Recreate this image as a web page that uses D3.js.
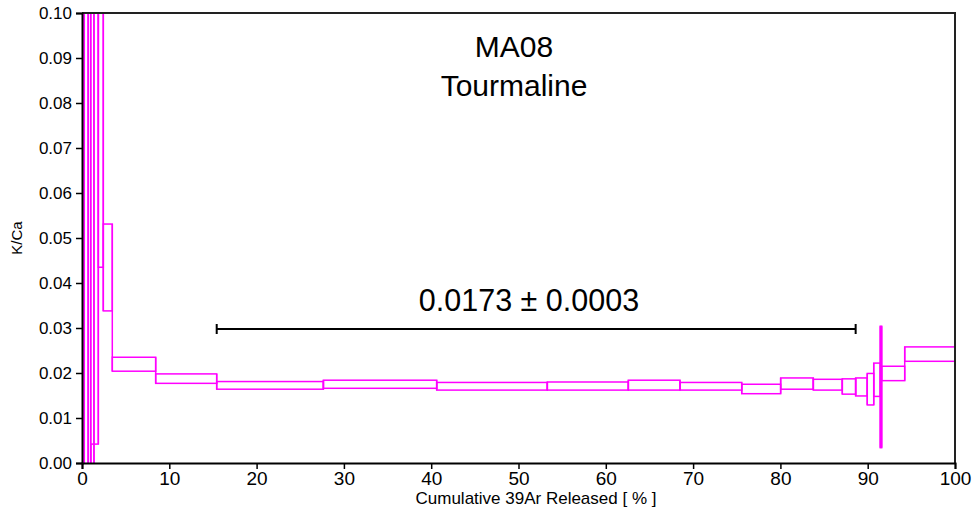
<!DOCTYPE html>
<html>
<head>
<meta charset="utf-8">
<script src="https://cdn.jsdelivr.net/npm/d3@7"></script>
<style>
  body { margin: 0; background: #fff; }
  svg { display: block; }
</style>
</head>
<body>
<div id="chart"></div>
<script>
// step edges, cumulative 39Ar released (%)
const stepEdges = [0, 0.26, 0.72, 1.0, 1.37, 1.87, 2.44, 3.47, 8.44, 15.43, 27.65, 40.63, 53.3,
    62.58, 68.5, 75.57, 80.03, 83.77, 87.09, 88.62, 89.95, 90.69, 91.44, 91.6, 94.24, 100];
// lower / upper K/Ca of each step (first ones run off the scale)
const kcaLow = [-0.05, -0.04, -0.03, -0.02, 0.0042, 0.0435, 0.0338, 0.0204, 0.0177, 0.0164, 0.0166,
    0.0162, 0.0162, 0.0162, 0.0162, 0.0154, 0.0164, 0.0162, 0.0153, 0.0149, 0.0129, 0.0148, 0.0034,
    0.0183, 0.0226];
const kcaHigh = [0.25, 0.22, 0.2, 0.0042, 0.15, 0.12, 0.0531, 0.0235, 0.0198, 0.0181, 0.0184,
    0.0179, 0.0180, 0.0184, 0.0179, 0.0175, 0.0189, 0.0186, 0.0187, 0.0189, 0.0199, 0.0222, 0.0304,
    0.0215, 0.0258];

const plateauFrom = 15.43, plateauTo = 88.62, plateauLevel = 0.0298;
const plateauLabel = "0.0173 \u00b1 0.0003";
const titleLines = ["MA08", "Tourmaline"];
const xTicks = d3.range(0, 101, 10);
const yTicks = d3.range(0, 0.1001, 0.01);

const width = 974, height = 514;
const margin = { left: 82, top: 13, right: 19, bottom: 51 };
const innerW = width - margin.left - margin.right;
const innerH = height - margin.top - margin.bottom;

const svg = d3.select("#chart").append("svg")
    .attr("width", width)
    .attr("height", height);

const x = d3.scaleLinear().domain([0, 100]).range([margin.left, margin.left + innerW]);
const y = d3.scaleLinear().domain([0, 0.1]).range([margin.top + innerH, margin.top]);

svg.append("clipPath").attr("id", "plot")
    .append("rect")
    .attr("x", margin.left).attr("y", margin.top)
    .attr("width", innerW).attr("height", innerH);

const steps = kcaLow.map((lo, i) => ({ x0: stepEdges[i], x1: stepEdges[i + 1], lo, hi: kcaHigh[i] }));

// vertical joins between neighbouring steps
const joins = steps.slice(1).map((s, i) => ({
    at: s.x0,
    lo: Math.min(s.lo, steps[i].lo),
    hi: Math.max(s.hi, steps[i].hi)
})).filter(d => d.hi > d.lo);

const spectrum = svg.append("g").attr("clip-path", "url(#plot)");

spectrum.selectAll("rect")
    .data(steps)
    .enter().append("rect")
    .attr("x", d => x(d.x0))
    .attr("width", d => x(d.x1) - x(d.x0))
    .attr("y", d => y(d.hi))
    .attr("height", d => y(d.lo) - y(d.hi))
    .attr("fill", "none")
    .attr("stroke", "#ff00ff")
    .attr("stroke-width", 1.5);

spectrum.selectAll("line")
    .data(joins)
    .enter().append("line")
    .attr("x1", d => x(d.at)).attr("x2", d => x(d.at))
    .attr("y1", d => y(d.hi)).attr("y2", d => y(d.lo))
    .attr("stroke", "#ff00ff")
    .attr("stroke-width", 1.5);

// frame top and right
svg.append("path")
    .attr("d", `M${x(0)},${y(0.1)}H${x(100)}V${y(0)}`)
    .attr("fill", "none")
    .attr("stroke", "#222")
    .attr("stroke-width", 2);

// axes
const yAxis = svg.append("g")
    .attr("transform", `translate(${margin.left},0)`)
    .call(d3.axisLeft(y).tickValues(yTicks).tickSize(6).tickPadding(4).tickFormat(d3.format(".2f")));
yAxis.select(".domain").attr("stroke", "#000").attr("stroke-width", 2);
yAxis.selectAll(".tick line").attr("stroke", "#000").attr("stroke-width", 1.5);
yAxis.selectAll("text")
    .attr("font-family", "'Liberation Sans', Arial, sans-serif")
    .attr("font-size", 17)
    .attr("fill", "#000");

const xAxis = svg.append("g")
    .attr("transform", `translate(0,${margin.top + innerH})`)
    .call(d3.axisBottom(x).tickValues(xTicks).tickSize(6).tickPadding(3).tickFormat(d3.format("d")));
xAxis.select(".domain").attr("stroke", "#000").attr("stroke-width", 2);
xAxis.selectAll(".tick line").attr("stroke", "#000").attr("stroke-width", 1.5);
xAxis.selectAll("text")
    .attr("font-family", "'Liberation Sans Narrow', 'Arial Narrow', sans-serif")
    .attr("font-size", 19)
    .attr("fill", "#000");

svg.append("text")
    .attr("x", 536).attr("y", 504)
    .attr("text-anchor", "middle")
    .attr("font-family", "'Liberation Sans Narrow', 'Arial Narrow', sans-serif")
    .attr("font-size", 17)
    .text("Cumulative 39Ar Released [ % ]");

svg.append("text")
    .attr("transform", `translate(22,${y(0.05)}) rotate(-90)`)
    .attr("text-anchor", "middle")
    .attr("font-family", "'Liberation Sans', Arial, sans-serif")
    .attr("font-size", 15)
    .text("K/Ca");

// title
svg.append("g").selectAll("text")
    .data(titleLines)
    .enter().append("text")
    .attr("x", 514)
    .attr("y", (d, i) => 57 + i * 39)
    .attr("text-anchor", "middle")
    .attr("font-family", "'Liberation Sans', Arial, sans-serif")
    .attr("font-size", 30)
    .text(d => d);

// plateau bar
const py = y(plateauLevel);
svg.append("path")
    .attr("d", `M${x(plateauFrom)},${py}H${x(plateauTo)}` +
        `M${x(plateauFrom)},${py - 5}V${py + 5}M${x(plateauTo)},${py - 5}V${py + 5}`)
    .attr("fill", "none")
    .attr("stroke", "#000")
    .attr("stroke-width", 2);

svg.append("text")
    .attr("x", 529).attr("y", 311)
    .attr("text-anchor", "middle")
    .attr("font-family", "'Liberation Sans', Arial, sans-serif")
    .attr("font-size", 30.5)
    .text(plateauLabel);
</script>
</body>
</html>
